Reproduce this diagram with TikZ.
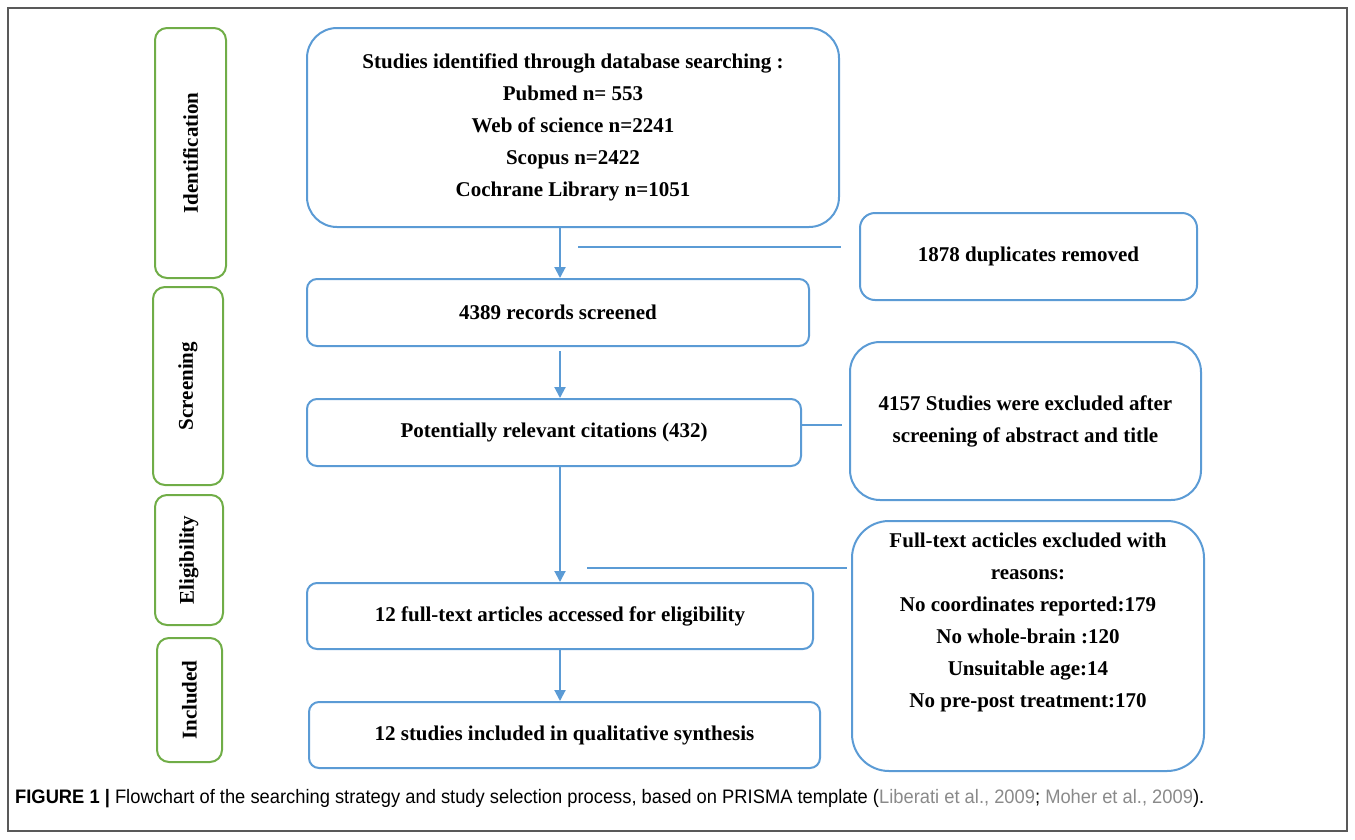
\documentclass[tikz,border=0pt]{standalone}
\usepackage{fontspec}
\setmainfont{Liberation Serif}
\newfontfamily\capfont[FakeStretch=0.94]{Liberation Sans}
\usetikzlibrary{arrows.meta}
\definecolor{boxblue}{HTML}{5B9BD5}
\definecolor{stagegreen}{HTML}{70AD47}
\definecolor{citegray}{HTML}{8A8A8A}

\begin{document}
\begin{tikzpicture}[x=1pt,y=-1pt,
    box/.style={draw=boxblue,line width=2pt,rounded corners=10pt,inner sep=0pt,
        align=center,font=\bfseries\fontsize{21}{32}\selectfont},
    stage/.style={draw=stagegreen,line width=2pt,rounded corners=12pt,inner sep=0pt,
        rotate=90,font=\bfseries\fontsize{21}{24}\selectfont},
    link/.style={draw=boxblue,line width=2pt},
    flow/.style={link,-{Triangle[length=11pt,width=11pt]}}]

\useasboundingbox (0,0) rectangle (1355,839);

% Frame round the whole figure
\draw[black!65,line width=1.5pt] (8,8) rectangle (1347,831);

% Draw the stage boxes on the left
\foreach \nm/\lbl/\cx/\cy/\w/\h in {
    ident/Identification/190.5/153/71/250,
    screen/Screening/188/386/70/198,
    elig/Eligibility/189/560/68/130,
    incl/Included/189.5/700/65/124} {
    \node[stage,minimum width=\h pt,minimum height=\w pt] (st\nm) at (\cx,\cy) {\lbl};
}

% Draw the main column of boxes
\node[box,rounded corners=30pt,minimum width=532pt,minimum height=199pt] (search) at (573,127.5)
    {Studies identified through database searching :\\Pubmed n= 553\\Web of science n=2241\\Scopus n=2422\\Cochrane Library n=1051};
\node[box,minimum width=502pt,minimum height=67pt] (screened) at (558,312.5) {4389 records screened};
\node[box,minimum width=494pt,minimum height=67pt] (relevant) at (554,432.5) {Potentially relevant citations (432)};
\node[box,minimum width=506pt,minimum height=66pt] (fulltext) at (560,616) {12 full-text articles accessed for eligibility};
\node[box,minimum width=511pt,minimum height=66pt] (included) at (564.5,735) {12 studies included in qualitative synthesis};

% Draw the exclusion boxes on the right
\node[box,rounded corners=15pt,minimum width=337pt,minimum height=87pt] (dupes) at (1028.5,256.5) {1878 duplicates removed};
\node[box,rounded corners=30pt,minimum width=351pt,minimum height=158pt] (absex) at (1025.5,421)
    {4157 Studies were excluded after\\screening of abstract and title};
\node[box,rounded corners=37pt,minimum width=352pt,minimum height=250pt] (ftex) at (1028,646) {};
\node[align=center,font=\bfseries\fontsize{21}{32}\selectfont,yshift=24pt] (ftextxt) at (ftex.center)
    {Full-text acticles excluded with\\reasons:\\No coordinates reported:179\\No whole-brain :120\\Unsuitable age:14\\No pre-post treatment:170};

% Arrows down the main column
\coordinate (ax) at (560,0);
\draw[flow] (search.south -| ax) -- (screened.north -| ax);
\draw[flow,shorten <=4pt] (screened.south -| ax) -- (relevant.north -| ax);
\draw[flow] (relevant.south -| ax) -- (fulltext.north -| ax);
\draw[flow] (fulltext.south -| ax) -- (included.north -| ax);

% Side lines towards the exclusions
\coordinate (dupA) at (578,247);
\coordinate (dupB) at (841,247);
\coordinate (absB) at (842,425);
\coordinate (ftA) at (587,568);
\coordinate (ftB) at (847,568);
\draw[link] (dupA) -- (dupB);
\draw[link] (relevant.east |- absB) -- (absB);
\draw[link] (ftA) -- (ftB);

% Caption
\node[anchor=base west,inner sep=0pt,font=\capfont\fontsize{19.5}{22}\selectfont] (caption) at (15,803)
    {\textbf{FIGURE 1 |} Flowchart of the searching strategy and study selection process, based on PRISMA template (\textcolor{citegray}{Liberati et al., 2009}; \textcolor{citegray}{Moher et al., 2009}).};

\end{tikzpicture}
\end{document}
